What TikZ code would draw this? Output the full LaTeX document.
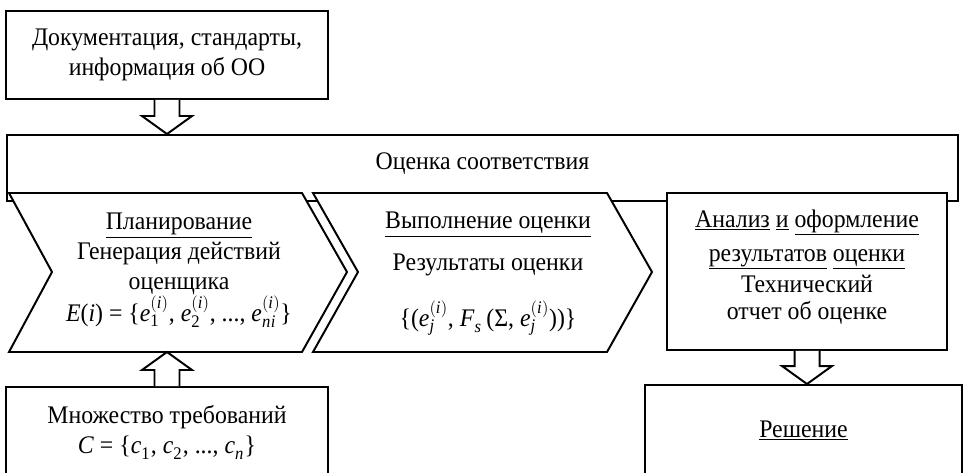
\documentclass[tikz,border=0pt]{standalone}
\usepackage{fontspec}
\setmainfont[FakeStretch=0.94]{Liberation Serif}
\usetikzlibrary{calc}

\newlength{\pxu}
\setlength{\pxu}{0.025cm}

% italic letter with stacked indices
\newcommand{\ix}[3]{\textit{#1}$_{#2}^{#3}$}

% block arrow: from #1 to tip #2, head base offset #3
\newcommand{\fatarrow}[3]{%
  \draw[fatarr] ($(#1)+(-12.5,0)$) -- ($(#2)+(-12.5,#3)$) -- ($(#2)+(-25,#3)$)
    -- (#2) -- ($(#2)+(25,#3)$) -- ($(#2)+(12.5,#3)$) -- ($(#1)+(12.5,0)$);}

\begin{document}
\begin{tikzpicture}[x=0.025cm, y=-0.025cm,
      every node/.style={font=\fontsize{18}{21.3}\selectfont, align=center},
      box/.style={draw, line width=1.4pt, fill=white, inner sep=0pt},
      chevron/.style={draw, line width=1.4pt, fill=white},
      fatarr/.style={draw, line width=1.4pt, fill=white}]

      \useasboundingbox (0,0) rectangle (970,472);

      \node[box, minimum width=322\pxu, minimum height=88\pxu] (docs) at (167,55)
        {Документация, стандарты,\\информация об ОО};
      \node[box, minimum width=951\pxu, minimum height=66\pxu] (eval) at (482.5,168) {};
      \node (evaltxt) at (482.5,164) {Оценка соответствия};

      % stages
      \draw[chevron] (9,193) -- (302,193) -- (347,272) -- (302,352) -- (9,352) -- (52,272) -- cycle;
      \draw[chevron] (313,193) -- (607,193) -- (652,272) -- (607,352) -- (313,352) -- (358,272) -- cycle;
      \coordinate (plan-s) at (167,352);
      \node (plan) at (179,270)
        {\underline{Планирование}\\ Генерация действий\\ оценщика\\
         \textit{E}(\textit{i}) = \{\ix{e}{\mathrm{1}}{(\mathit{i})}, \ix{e}{\mathrm{2}}{(\mathit{i})}, ...,
         \ix{e}{\mathit{ni}}{(\mathit{i})}\}};
      \node (exec) at (488,274)
        {\underline{Выполнение оценки}\\[8pt] Результаты оценки\\[17pt]
         \{(\ix{e}{\mathit{j}}{(\mathit{i})}, \ix{F}{\mathit{s}}{}\,(Σ, \ix{e}{\mathit{j}}{(\mathit{i})}))\}};

      \node[box, minimum width=280\pxu, minimum height=157\pxu] (analysis) at (807,271.5) {};
      \node (analysistxt) at (807,267)
        {\underline{Анализ} \underline{и} \underline{оформление}\\[3pt]
         \underline{результатов} \underline{оценки}\\[1pt] Технический\\[-2pt] отчет об оценке};

      \node[box, minimum width=322\pxu, minimum height=90\pxu] (req) at (167,432)
        {Множество требований\\ \textit{C} = \{\ix{c}{\mathrm{1}}{}, \ix{c}{\mathrm{2}}{}, ..., \ix{c}{\mathit{n}}{}\}};
      \node[box, minimum width=317\pxu, minimum height=91\pxu] (decision) at (803.5,430.5)
        {\underline{Решение}};

      \coordinate (a1) at (docs.south |- eval.north);
      \fatarrow{docs.south}{a1}{-18}
      \coordinate (a2) at (req.north |- plan-s);
      \fatarrow{req.north}{a2}{18}
      \coordinate (a3) at (analysis.south |- decision.north);
      \fatarrow{analysis.south}{a3}{-18}
\end{tikzpicture}
\end{document}
